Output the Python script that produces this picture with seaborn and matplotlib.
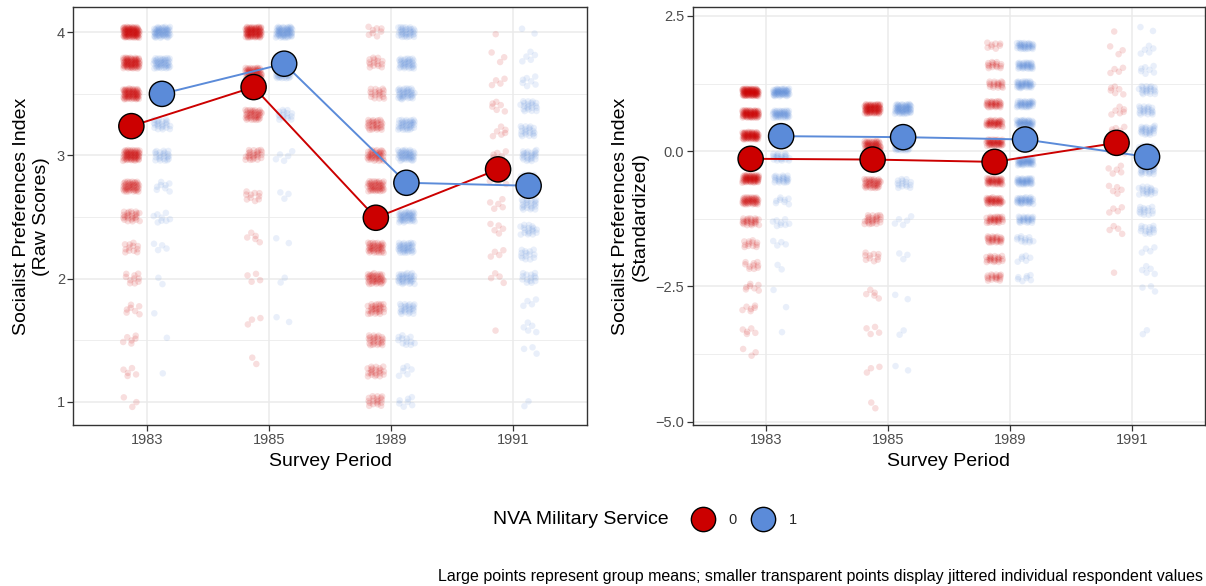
import numpy as np
import pandas as pd
import matplotlib
matplotlib.use("Agg")
import matplotlib.pyplot as plt
from matplotlib.lines import Line2D
from matplotlib.ticker import FixedLocator
import seaborn as sns

sns.set_style("white")
plt.rcParams["font.family"] = ["Liberation Sans", "DejaVu Sans"]

# ---- data -------------------------------------------------------------
years = ["1983", "1985", "1989", "1991"]
groups = ["0", "1"]
palette = {"0": "#CC0000", "1": "#5B8BD9"}

# response levels of the index in each survey wave
levels_1983 = [4.0, 3.75, 3.5, 3.25, 3.0, 2.75, 2.5, 2.25, 2.0, 1.75, 1.5, 1.25, 1.0]
levels_1985 = [4.0, 3.667, 3.333, 3.0, 2.667, 2.333, 2.0, 1.667, 1.333]
levels_1989 = [4.0, 3.75, 3.5, 3.25, 3.0, 2.75, 2.5, 2.25, 2.0, 1.75, 1.5, 1.25, 1.0]
levels_1991 = [4.0, 3.8, 3.6, 3.4, 3.2, 3.0, 2.8, 2.6, 2.4, 2.2, 2.0, 1.8, 1.6, 1.4, 1.0]

# respondents per level (group 0 = no NVA service, group 1 = NVA service)
counts_1983_g0 = [90, 75, 70, 60, 65, 45, 25, 12, 10, 7, 6, 5, 3]
counts_1983_g1 = [55, 45, 35, 22, 22, 8, 8, 4, 2, 1, 1, 1, 0]
counts_1985_g0 = [80, 60, 40, 25, 10, 5, 4, 3, 2]
counts_1985_g1 = [60, 40, 15, 5, 3, 2, 2, 2, 0]
counts_1989_g0 = [8, 15, 18, 30, 40, 45, 45, 40, 40, 30, 25, 22, 18]
counts_1989_g1 = [35, 35, 38, 38, 45, 45, 45, 38, 35, 25, 12, 6, 7]
counts_1991_g0 = [1, 3, 4, 6, 6, 6, 5, 5, 5, 4, 4, 0, 1, 0, 0]
counts_1991_g1 = [2, 5, 7, 20, 20, 24, 24, 22, 18, 14, 14, 4, 5, 3, 2]

# wave centre and spread used for the standardized index
wave_center = [3.32, 3.62, 2.64, 2.79]
wave_scale = [0.625, 0.487, 0.70, 0.54]

# group means
mean_raw_g0 = [3.238, 3.555, 2.494, 2.887]
mean_raw_g1 = [3.500, 3.745, 2.778, 2.754]
mean_std_g0 = [-0.140, -0.154, -0.197, 0.155]
mean_std_g1 = [0.278, 0.260, 0.217, -0.104]

levels = {"1983": levels_1983, "1985": levels_1985,
          "1989": levels_1989, "1991": levels_1991}
counts = {("1983", "0"): counts_1983_g0, ("1983", "1"): counts_1983_g1,
          ("1985", "0"): counts_1985_g0, ("1985", "1"): counts_1985_g1,
          ("1989", "0"): counts_1989_g0, ("1989", "1"): counts_1989_g1,
          ("1991", "0"): counts_1991_g0, ("1991", "1"): counts_1991_g1}

# ---- build point tables ----------------------------------------------
DODGE = {"0": -0.125, "1": 0.125}
JIT_X = 0.068
JIT_Y = 0.045
A1, A2 = 0.7548776662466927, 0.5698402909980532  # quasi-uniform jitter sequence

rows = []
k = 0
for i, yr in enumerate(years):
    for g in groups:
        for lev, n in zip(levels[yr], counts[(yr, g)]):
            for _ in range(n):
                k += 1
                u = (0.5 + k * A1) % 1.0
                v = (0.5 + k * A2) % 1.0
                raw = lev + (v - 0.5) * 2 * JIT_Y
                rows.append({
                    "x": i + DODGE[g] + (u - 0.5) * 2 * JIT_X,
                    "raw": raw,
                    "std": (raw - wave_center[i]) / wave_scale[i],
                    "group": g,
                })
pts = pd.DataFrame(rows)

means = pd.DataFrame({
    "x": [i + DODGE[g] for g in groups for i in range(len(years))],
    "raw": mean_raw_g0 + mean_raw_g1,
    "std": mean_std_g0 + mean_std_g1,
    "group": [g for g in groups for _ in years],
})

# ---- figure -------------------------------------------------------------
W, H = 1206, 586
fig = plt.figure(figsize=(W / 100, H / 100), dpi=100)
axL = fig.add_axes([73.3 / W, (H - 425) / H, (586.7 - 73.3) / W, (425 - 7.3) / H])
axR = fig.add_axes([692.7 / W, (H - 425) / H, (1205 - 692.7) / W, (425 - 7.3) / H])

panels = [
    (axL, "raw", "Socialist Preferences Index\n(Raw Scores)", (0.811, 4.203),
     [1, 2, 3, 4], [1.5, 2.5, 3.5], "{:g}"),
    (axR, "std", "Socialist Preferences Index\n(Standardized)", (-5.06, 2.66),
     [-5.0, -2.5, 0.0, 2.5], [-3.75, -1.25, 1.25], "{:.1f}"),
]

for ax, col, ylab, ylim, majors, minors, fmt in panels:
    sns.scatterplot(data=pts, x="x", y=col, hue="group", palette=palette,
                    alpha=0.13, s=22, linewidth=0, legend=False, ax=ax, zorder=2)
    sns.lineplot(data=means, x="x", y=col, hue="group", palette=palette,
                 estimator=None, sort=True, lw=1.4, legend=False, ax=ax, zorder=3)
    sns.scatterplot(data=means, x="x", y=col, hue="group", palette=palette,
                    s=330, edgecolor="black", linewidth=1.0, legend=False,
                    ax=ax, zorder=4)

    ax.set_xlim(-0.6, 3.6)
    ax.set_ylim(*ylim)
    ax.set_xticks(range(len(years)))
    ax.set_xticklabels(years)
    ax.set_yticks(majors)
    ax.set_yticklabels([fmt.format(v).replace("-", "\u2212") for v in majors])
    ax.yaxis.set_minor_locator(FixedLocator(minors))

    ax.grid(which="major", color="#EBEBEB", lw=1.1)
    ax.grid(which="minor", axis="y", color="#EBEBEB", lw=0.6)
    ax.set_axisbelow(True)
    ax.tick_params(which="major", direction="out", length=4, width=0.9,
                   color="#333333", labelcolor="#4D4D4D", labelsize=10.5, pad=2,
                   left=True, bottom=True)
    ax.tick_params(which="minor", length=0)
    for sp in ax.spines.values():
        sp.set_color("#333333")
        sp.set_linewidth(1.0)

    ax.set_xlabel("Survey Period", fontsize=14, color="black", labelpad=4)
    ax.set_ylabel(ylab, fontsize=14, color="black", labelpad=5)

# ---- legend and caption ------------------------------------------------
leg_y = 1 - 520 / H
fig.text(669 / W, leg_y, "NVA Military Service", ha="right", va="center",
         fontsize=14, color="black")
handles = [Line2D([], [], marker="o", linestyle="none", markersize=17.5,
                  markerfacecolor=palette[g], markeredgecolor="black",
                  markeredgewidth=1.0) for g in groups]
fig.legend(handles, groups, loc="center left", bbox_to_anchor=(682.7 / W, leg_y),
           ncol=2, frameon=False, fontsize=10.5, handlelength=1.75,
           borderpad=0, handletextpad=0.87, columnspacing=0.96)

fig.text(1203 / W, 1 - 577 / H,
         "Large points represent group means; smaller transparent points "
         "display jittered individual respondent values",
         ha="right", va="center", fontsize=11.5, color="black")

fig.savefig("out.png", dpi=100)
